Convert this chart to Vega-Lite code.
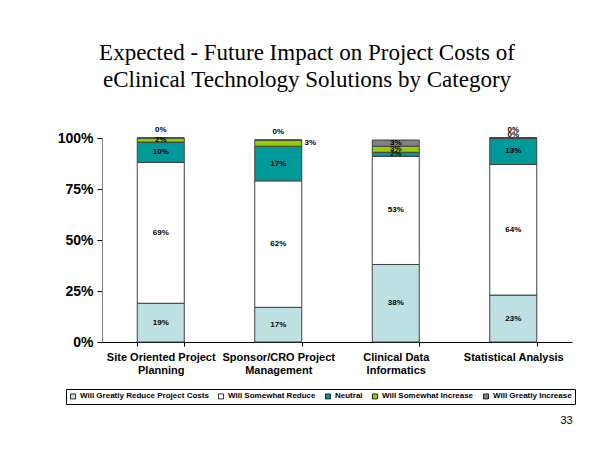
{
  "$schema": "https://vega.github.io/schema/vega-lite/v6.json",
  "width": 470,
  "height": 204,
  "autosize": {"type": "none"},
  "padding": {"left": 102, "top": 138, "right": 42, "bottom": 117},
  "background": "white",
  "title": {
    "text": ["Expected - Future Impact on Project Costs of", "eClinical Technology Solutions by Category"],
    "font": "Liberation Serif",
    "fontSize": 23,
    "fontWeight": "normal",
    "color": "black",
    "lineHeight": 27,
    "anchor": "middle",
    "frame": "group",
    "dx": -30,
    "offset": 34
  },
  "data": {
    "values": [
      {"cat": "Site Oriented Project Planning", "series": "Will Greatly Reduce Project Costs", "ord": 1, "value": 19},
      {"cat": "Site Oriented Project Planning", "series": "Will Somewhat Reduce", "ord": 2, "value": 69},
      {"cat": "Site Oriented Project Planning", "series": "Neutral", "ord": 3, "value": 10},
      {"cat": "Site Oriented Project Planning", "series": "Will Somewhat Increase", "ord": 4, "value": 2},
      {"cat": "Site Oriented Project Planning", "series": "Will Greatly Increase", "ord": 5, "value": 0},
      {"cat": "Sponsor/CRO Project Management", "series": "Will Greatly Reduce Project Costs", "ord": 1, "value": 17},
      {"cat": "Sponsor/CRO Project Management", "series": "Will Somewhat Reduce", "ord": 2, "value": 62},
      {"cat": "Sponsor/CRO Project Management", "series": "Neutral", "ord": 3, "value": 17},
      {"cat": "Sponsor/CRO Project Management", "series": "Will Somewhat Increase", "ord": 4, "value": 3},
      {"cat": "Sponsor/CRO Project Management", "series": "Will Greatly Increase", "ord": 5, "value": 0},
      {"cat": "Clinical Data Informatics", "series": "Will Greatly Reduce Project Costs", "ord": 1, "value": 38},
      {"cat": "Clinical Data Informatics", "series": "Will Somewhat Reduce", "ord": 2, "value": 53},
      {"cat": "Clinical Data Informatics", "series": "Neutral", "ord": 3, "value": 2},
      {"cat": "Clinical Data Informatics", "series": "Will Somewhat Increase", "ord": 4, "value": 3},
      {"cat": "Clinical Data Informatics", "series": "Will Greatly Increase", "ord": 5, "value": 3},
      {"cat": "Statistical Analysis", "series": "Will Greatly Reduce Project Costs", "ord": 1, "value": 23},
      {"cat": "Statistical Analysis", "series": "Will Somewhat Reduce", "ord": 2, "value": 64},
      {"cat": "Statistical Analysis", "series": "Neutral", "ord": 3, "value": 13},
      {"cat": "Statistical Analysis", "series": "Will Somewhat Increase", "ord": 4, "value": 0},
      {"cat": "Statistical Analysis", "series": "Will Greatly Increase", "ord": 5, "value": 0}
    ]
  },
  "transform": [
    {"stack": "value", "groupby": ["cat"], "sort": [{"field": "ord", "order": "ascending"}], "as": ["y0", "y1"]},
    {"calculate": "(datum.y0 + datum.y1) / 2", "as": "ymid"},
    {"calculate": "datum.value + '%'", "as": "label"}
  ],
  "encoding": {
    "x": {
      "field": "cat",
      "type": "nominal",
      "sort": ["Site Oriented Project Planning", "Sponsor/CRO Project Management", "Clinical Data Informatics", "Statistical Analysis"],
      "scale": {"paddingInner": 0.6, "paddingOuter": 0.3},
      "axis": {
        "title": "33",
        "titleFont": "Liberation Sans",
        "titleFontSize": 11,
        "titleFontWeight": "normal",
        "titleColor": "black",
        "titleX": 464,
        "titleY": 78,
        "titleAlign": "center",
        "titleBaseline": "middle",
        "titleAnchor": null,
        "labelAngle": 0,
        "labelFont": "Liberation Sans",
        "labelFontSize": 11,
        "labelFontWeight": "bold",
        "labelColor": "black",
        "labelPadding": 5,
        "labelLineHeight": 13,
        "labelExpr": "datum.label == 'Site Oriented Project Planning' ? ['Site Oriented Project', 'Planning'] : datum.label == 'Sponsor/CRO Project Management' ? ['Sponsor/CRO Project', 'Management'] : datum.label == 'Clinical Data Informatics' ? ['Clinical Data', 'Informatics'] : datum.label",
        "tickBand": "extent",
        "tickSize": 4,
        "tickColor": "black",
        "domainColor": "black",
        "labelOverlap": false
      }
    }
  },
  "layer": [
    {
      "mark": {"type": "bar", "stroke": "#404040", "strokeWidth": 1},
      "encoding": {
        "y": {
          "field": "y0",
          "type": "quantitative",
          "scale": {"domain": [0, 100]},
          "axis": {
            "title": null,
            "values": [0, 25, 50, 75, 100],
            "labelExpr": "datum.value + '%'",
            "labelFont": "Liberation Sans",
            "labelFontSize": 14,
            "labelFontWeight": "bold",
            "labelColor": "black",
            "labelPadding": 4,
            "tickSize": 5,
            "tickColor": "black",
            "domainColor": "#808080",
            "grid": false
          }
        },
        "y2": {"field": "y1"},
        "color": {
          "field": "series",
          "type": "nominal",
          "sort": ["Will Greatly Reduce Project Costs", "Will Somewhat Reduce", "Neutral", "Will Somewhat Increase", "Will Greatly Increase"],
          "scale": {
            "domain": ["Will Greatly Reduce Project Costs", "Will Somewhat Reduce", "Neutral", "Will Somewhat Increase", "Will Greatly Increase"],
            "range": ["#BDE0E3", "#FFFFFF", "#009999", "#99CC00", "#808080"]
          },
          "legend": {
            "orient": "none",
            "legendX": -36,
            "legendY": 251,
            "direction": "horizontal",
            "columns": 5,
            "title": null,
            "symbolType": "square",
            "symbolSize": 25,
            "symbolStrokeColor": "black",
            "symbolStrokeWidth": 0.8,
            "labelFont": "Liberation Sans",
            "labelFontSize": 8,
            "labelFontWeight": "bold",
            "labelColor": "black",
            "labelOffset": 3,
            "columnPadding": 7,
            "strokeColor": "black",
            "padding": 3
          }
        }
      }
    },
    {
      "transform": [{"filter": "datum.value > 0 && !(datum.cat == 'Sponsor/CRO Project Management' && datum.series == 'Will Somewhat Increase')"}],
      "mark": {"type": "text", "font": "Liberation Sans", "fontSize": 8, "fontWeight": "bold", "fill": "black"},
      "encoding": {"y": {"field": "ymid", "type": "quantitative"}, "text": {"field": "label"}}
    },
    {
      "transform": [{"filter": "datum.cat == 'Sponsor/CRO Project Management' && datum.series == 'Will Somewhat Increase'"}],
      "mark": {"type": "text", "font": "Liberation Sans", "fontSize": 8, "fontWeight": "bold", "fill": "black", "dx": 32},
      "encoding": {"y": {"field": "ymid", "type": "quantitative"}, "text": {"field": "label"}}
    },
    {
      "transform": [{"filter": "datum.value == 0 && datum.series == 'Will Greatly Increase'"}],
      "mark": {"type": "text", "font": "Liberation Sans", "fontSize": 8, "fontWeight": "bold", "fill": "black", "dy": -8},
      "encoding": {"y": {"field": "ymid", "type": "quantitative"}, "text": {"field": "label"}}
    },
    {
      "transform": [{"filter": "datum.value == 0 && datum.series == 'Will Somewhat Increase'"}],
      "mark": {"type": "text", "font": "Liberation Sans", "fontSize": 8, "fontWeight": "bold", "fill": "black", "dy": -3},
      "encoding": {"y": {"field": "ymid", "type": "quantitative"}, "text": {"field": "label"}}
    }
  ],
  "config": {"view": {"stroke": null}}
}
